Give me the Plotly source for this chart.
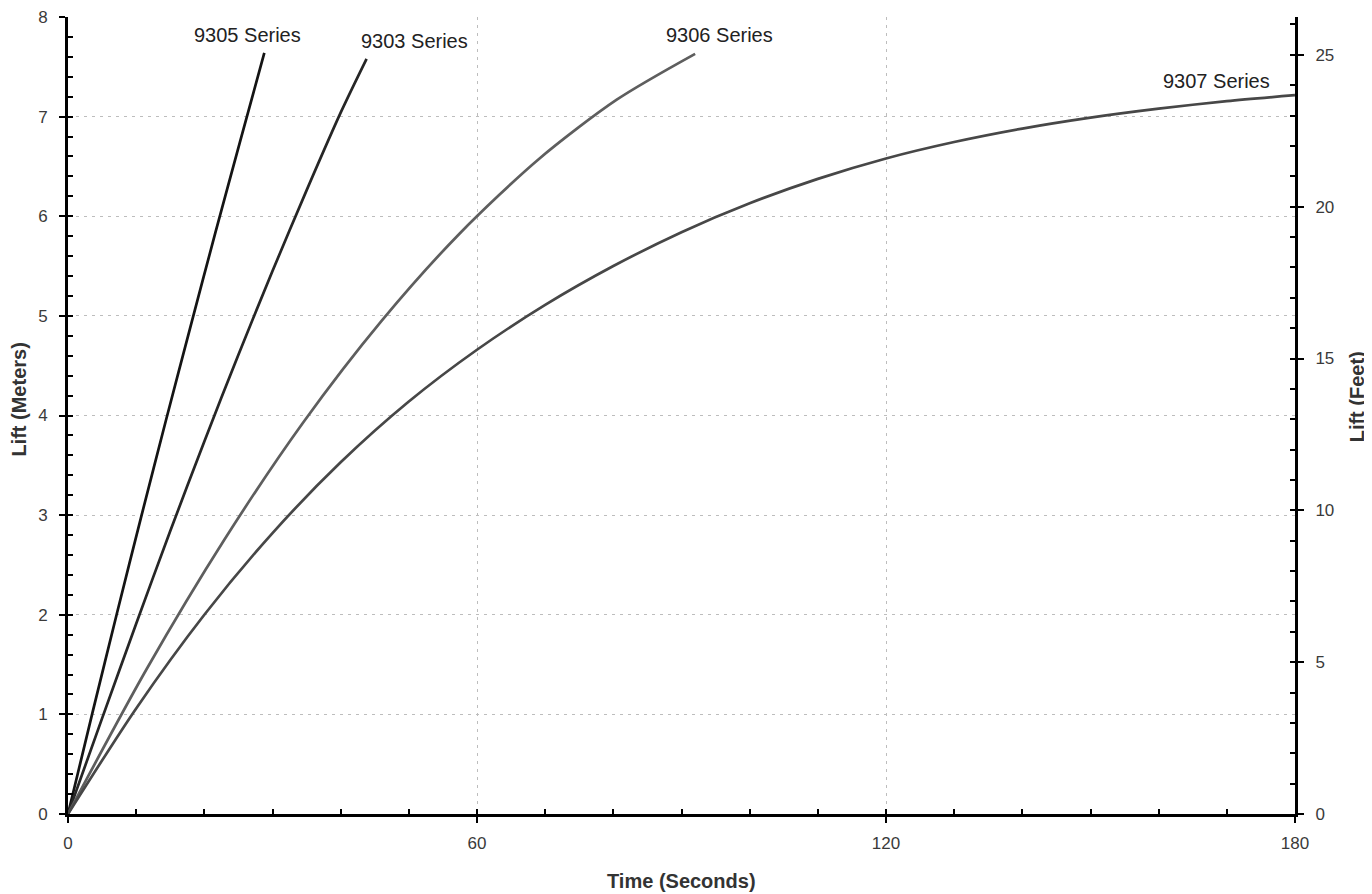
import plotly.graph_objects as go

# ---- data ----
t_9305 = [0, 3.6, 7.2, 10.8, 14.4, 18, 21.6, 25.2, 28.8]
lift_9305 = [0, 1.02, 2.02, 3.0, 3.96, 4.9, 5.83, 6.74, 7.64]

t_9303 = [0, 5, 10, 15, 20, 25, 30, 35, 40, 43.8]
lift_9303 = [0, 0.96, 1.91, 2.84, 3.74, 4.61, 5.45, 6.26, 7.04, 7.58]

t_9306 = [0, 11.5, 23, 34.5, 46, 57.5, 69, 80.5, 92]
lift_9306 = [0, 1.45, 2.76, 3.93, 4.95, 5.83, 6.57, 7.17, 7.63]

t_9307 = [0, 10, 20, 30, 40, 50, 60, 70, 80, 90, 100, 110, 120, 130, 140, 150, 160, 170, 180]
lift_9307 = [0, 1.06, 2.0, 2.82, 3.53, 4.14, 4.66, 5.11, 5.50, 5.84, 6.13, 6.375, 6.58,
             6.745, 6.88, 6.99, 7.08, 7.155, 7.215]

series_names = ["9305 Series", "9303 Series", "9306 Series", "9307 Series"]
label_t = [26.4, 50.9, 95.6, 168.5]
label_lift = [7.82, 7.76, 7.82, 7.36]

x_ticks = [0, 60, 120, 180]
y_ticks_m = [0, 1, 2, 3, 4, 5, 6, 7, 8]
y_ticks_ft = [0, 5, 10, 15, 20, 25]
M_TO_FT = 3.28084
Y_MAX_M = 8
X_MAX = 180

FONT = "Liberation Sans, Arial, Helvetica, sans-serif"
colors = ["#141414", "#262626", "#5e5e5e", "#474747"]

fig = go.Figure()
for name, tx, ly, c in zip(series_names,
                           [t_9305, t_9303, t_9306, t_9307],
                           [lift_9305, lift_9303, lift_9306, lift_9307],
                           colors):
    fig.add_trace(go.Scatter(x=tx, y=ly, mode="lines", name=name,
                             line=dict(color=c, width=2.7, shape="spline", smoothing=0.8),
                             showlegend=False, hoverinfo="skip"))

# dummy traces to create the helper axes
fig.add_trace(go.Scatter(x=[None], y=[None], xaxis="x", yaxis="y2", showlegend=False, hoverinfo="skip"))
fig.add_trace(go.Scatter(x=[None], y=[None], xaxis="x", yaxis="y3", showlegend=False, hoverinfo="skip"))
fig.add_trace(go.Scatter(x=[None], y=[None], xaxis="x", yaxis="y4", showlegend=False, hoverinfo="skip"))
fig.add_trace(go.Scatter(x=[None], y=[None], xaxis="x2", yaxis="y", showlegend=False, hoverinfo="skip"))

grid = dict(showgrid=True, gridcolor="#bdbdbd", gridwidth=1, griddash="3px,5px")
tickfont = dict(family=FONT, size=17, color="#3a3a3a")
common = dict(automargin=False, zeroline=False, ticklabeloverflow="allow")

fig.update_layout(
    template="none",
    width=1364, height=886,
    margin=dict(l=60, r=77, t=9, b=80),
    paper_bgcolor="white", plot_bgcolor="white",
    font=dict(family=FONT),
    xaxis=dict(range=[0, X_MAX], tickvals=x_ticks, ticks="outside", ticklen=6, tickwidth=2,
               tickcolor="black", showline=True, linecolor="black", linewidth=3,
               tickfont=tickfont, ticklabelstandoff=6, **grid, **common),
    xaxis2=dict(range=[0, X_MAX], overlaying="x", anchor="y", side="bottom",
                tickmode="linear", tick0=0, dtick=10, ticks="inside", ticklen=5, tickwidth=2,
                tickcolor="black", showticklabels=False, showgrid=False, showline=False, **common),
    yaxis=dict(range=[0, Y_MAX_M], tickvals=y_ticks_m, ticks="outside", ticklen=6, tickwidth=2,
               tickcolor="black", showline=True, linecolor="black", linewidth=3,
               tickfont=tickfont, ticklabelstandoff=8, **grid, **common),
    yaxis3=dict(range=[0, Y_MAX_M], overlaying="y", anchor="x", side="left",
                tickmode="linear", tick0=0, dtick=0.2, ticks="inside", ticklen=5, tickwidth=2,
                tickcolor="black", showticklabels=False, showgrid=False, showline=False, **common),
    yaxis2=dict(range=[0, Y_MAX_M * M_TO_FT], overlaying="y", anchor="x", side="right",
                tickvals=y_ticks_ft, ticks="outside", ticklen=6, tickwidth=2, tickcolor="black",
                showline=True, linecolor="black", linewidth=3, showgrid=False,
                tickfont=tickfont, ticklabelstandoff=8, **common),
    yaxis4=dict(range=[0, Y_MAX_M * M_TO_FT], overlaying="y", anchor="x", side="right",
                tickmode="linear", tick0=0, dtick=1, ticks="inside", ticklen=5, tickwidth=2,
                tickcolor="black", showticklabels=False, showgrid=False, showline=False, **common),
)

annotations = []
for name, lx, ly in zip(series_names, label_t, label_lift):
    annotations.append(dict(x=lx, y=ly, xref="x", yref="y", text=name, showarrow=False,
                            font=dict(family=FONT, size=20, color="#222222"),
                            xanchor="center", yanchor="middle"))

annotations.append(dict(x=0.5, y=-0.084, xref="paper", yref="paper", text="<b>Time (Seconds)</b>",
                        showarrow=False, font=dict(family=FONT, size=20, color="#333333"),
                        xanchor="center", yanchor="middle"))
annotations.append(dict(x=-0.0407, y=0.52, xref="paper", yref="paper", text="<b>Lift (Meters)</b>",
                        textangle=-90, showarrow=False,
                        font=dict(family=FONT, size=20, color="#333333"),
                        xanchor="center", yanchor="middle"))
annotations.append(dict(x=1.0505, y=0.524, xref="paper", yref="paper", text="<b>Lift (Feet)</b>",
                        textangle=-90, showarrow=False,
                        font=dict(family=FONT, size=20, color="#333333"),
                        xanchor="center", yanchor="middle"))
fig.update_layout(annotations=annotations)

fig.write_html("out.html")
